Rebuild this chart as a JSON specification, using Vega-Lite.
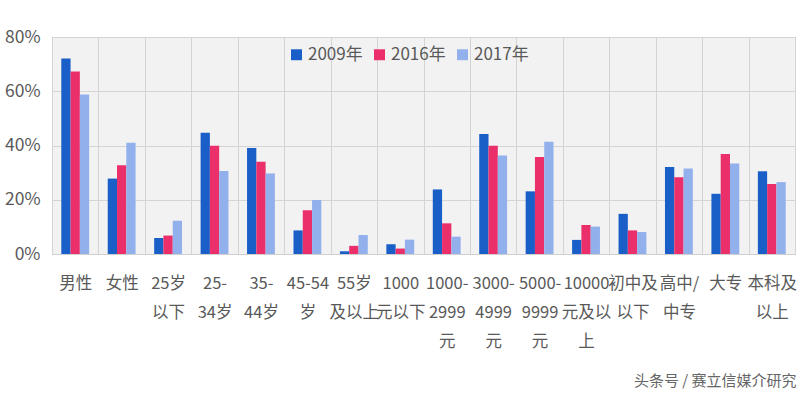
{
  "$schema": "https://vega.github.io/schema/vega-lite/v6.json",
  "autosize": "none",
  "width": 743,
  "height": 217,
  "padding": {"left": 52, "top": 37, "right": 5, "bottom": 141},
  "background": "#ffffff",
  "config": {
    "view": {"fill": "#f2f2f2", "stroke": "#cfcfcf", "strokeWidth": 1},
    "font": "Noto Sans CJK SC"
  },
  "title": {
    "text": "头条号 / 赛立信媒介研究",
    "orient": "bottom",
    "anchor": "end",
    "offset": 24,
    "fontSize": 15,
    "fontWeight": "normal",
    "color": "#666666",
    "font": "Noto Sans CJK SC"
  },
  "data": {
    "values": [
      {"cat": "男性", "year": "2009年", "v": 72.1},
      {"cat": "男性", "year": "2016年", "v": 67.3},
      {"cat": "男性", "year": "2017年", "v": 58.8},
      {"cat": "女性", "year": "2009年", "v": 27.8},
      {"cat": "女性", "year": "2016年", "v": 32.7},
      {"cat": "女性", "year": "2017年", "v": 41.0},
      {"cat": "25岁以下", "year": "2009年", "v": 5.9},
      {"cat": "25岁以下", "year": "2016年", "v": 6.8},
      {"cat": "25岁以下", "year": "2017年", "v": 12.3},
      {"cat": "25-34岁", "year": "2009年", "v": 44.7},
      {"cat": "25-34岁", "year": "2016年", "v": 39.9},
      {"cat": "25-34岁", "year": "2017年", "v": 30.6},
      {"cat": "35-44岁", "year": "2009年", "v": 39.1},
      {"cat": "35-44岁", "year": "2016年", "v": 34.0},
      {"cat": "35-44岁", "year": "2017年", "v": 29.7},
      {"cat": "45-54岁", "year": "2009年", "v": 8.7},
      {"cat": "45-54岁", "year": "2016年", "v": 16.1},
      {"cat": "45-54岁", "year": "2017年", "v": 19.9},
      {"cat": "55岁及以上", "year": "2009年", "v": 1.0},
      {"cat": "55岁及以上", "year": "2016年", "v": 3.0},
      {"cat": "55岁及以上", "year": "2017年", "v": 7.0},
      {"cat": "1000元以下", "year": "2009年", "v": 3.6},
      {"cat": "1000元以下", "year": "2016年", "v": 2.0},
      {"cat": "1000元以下", "year": "2017年", "v": 5.3},
      {"cat": "1000-2999元", "year": "2009年", "v": 23.8},
      {"cat": "1000-2999元", "year": "2016年", "v": 11.3},
      {"cat": "1000-2999元", "year": "2017年", "v": 6.4},
      {"cat": "3000-4999元", "year": "2009年", "v": 44.2},
      {"cat": "3000-4999元", "year": "2016年", "v": 39.9},
      {"cat": "3000-4999元", "year": "2017年", "v": 36.3},
      {"cat": "5000-9999元", "year": "2009年", "v": 23.1},
      {"cat": "5000-9999元", "year": "2016年", "v": 35.8},
      {"cat": "5000-9999元", "year": "2017年", "v": 41.4},
      {"cat": "10000元及以上", "year": "2009年", "v": 5.2},
      {"cat": "10000元及以上", "year": "2016年", "v": 10.7},
      {"cat": "10000元及以上", "year": "2017年", "v": 10.1},
      {"cat": "初中及以下", "year": "2009年", "v": 14.8},
      {"cat": "初中及以下", "year": "2016年", "v": 8.7},
      {"cat": "初中及以下", "year": "2017年", "v": 8.1},
      {"cat": "高中/中专", "year": "2009年", "v": 32.1},
      {"cat": "高中/中专", "year": "2016年", "v": 28.3},
      {"cat": "高中/中专", "year": "2017年", "v": 31.5},
      {"cat": "大专", "year": "2009年", "v": 22.2},
      {"cat": "大专", "year": "2016年", "v": 36.9},
      {"cat": "大专", "year": "2017年", "v": 33.4},
      {"cat": "本科及以上", "year": "2009年", "v": 30.5},
      {"cat": "本科及以上", "year": "2016年", "v": 25.8},
      {"cat": "本科及以上", "year": "2017年", "v": 26.5}
    ]
  },
  "mark": {"type": "bar"},
  "encoding": {
    "x": {
      "field": "cat",
      "type": "nominal",
      "sort": null,
      "scale": {"paddingInner": 0, "paddingOuter": 0},
      "axis": {
        "title": null,
        "labelAngle": 0,
        "labelFontSize": 16.5,
        "labelColor": "#595959",
        "labelFont": "Noto Sans CJK SC",
        "labelPadding": 21,
        "labelLineHeight": 29,
        "labelBaseline": "top",
        "labelExpr": "{'男性':['男性'],'女性':['女性'],'25岁以下':['25岁','以下'],'25-34岁':['25-','34岁'],'35-44岁':['35-','44岁'],'45-54岁':['45-54','岁'],'55岁及以上':['55岁','及以上'],'1000元以下':['1000','元以下'],'1000-2999元':['1000-','2999','元'],'3000-4999元':['3000-','4999','元'],'5000-9999元':['5000-','9999','元'],'10000元及以上':['10000','元及以','上'],'初中及以下':['初中及','以下'],'高中/中专':['高中/','中专'],'大专':['大专'],'本科及以上':['本科及','以上']}[datum.value]",
        "labelOverlap": false,
        "labelLimit": 0,
        "ticks": false,
        "domain": true,
        "domainColor": "#cfcfcf",
        "grid": true,
        "tickBand": "extent",
        "gridColor": "#d4d4d4",
        "gridWidth": 1
      }
    },
    "xOffset": {
      "field": "year",
      "type": "nominal",
      "scale": {"paddingInner": 0, "paddingOuter": 1.15}
    },
    "y": {
      "field": "v",
      "type": "quantitative",
      "scale": {"domain": [0, 80], "nice": false},
      "axis": {
        "title": null,
        "values": [0, 20, 40, 60, 80],
        "labelExpr": "datum.value + '%'",
        "labelFontSize": 17.5,
        "labelColor": "#595959",
        "labelFont": "Noto Sans CJK SC",
        "labelPadding": 12,
        "ticks": false,
        "domain": false,
        "gridColor": "#d4d4d4"
      }
    },
    "color": {
      "field": "year",
      "type": "nominal",
      "scale": {"domain": ["2009年", "2016年", "2017年"], "range": ["#1a5fc8", "#eb2f6b", "#92b1ec"]},
      "legend": {
        "title": null,
        "orient": "none",
        "direction": "horizontal",
        "legendX": 236,
        "legendY": 9,
        "symbolType": "square",
        "symbolSize": 120,
        "symbolStrokeWidth": 0,
        "labelFontSize": 17,
        "labelColor": "#595959",
        "labelFont": "Noto Sans CJK SC",
        "columnPadding": 8,
        "labelOffset": 3
      }
    }
  }
}
